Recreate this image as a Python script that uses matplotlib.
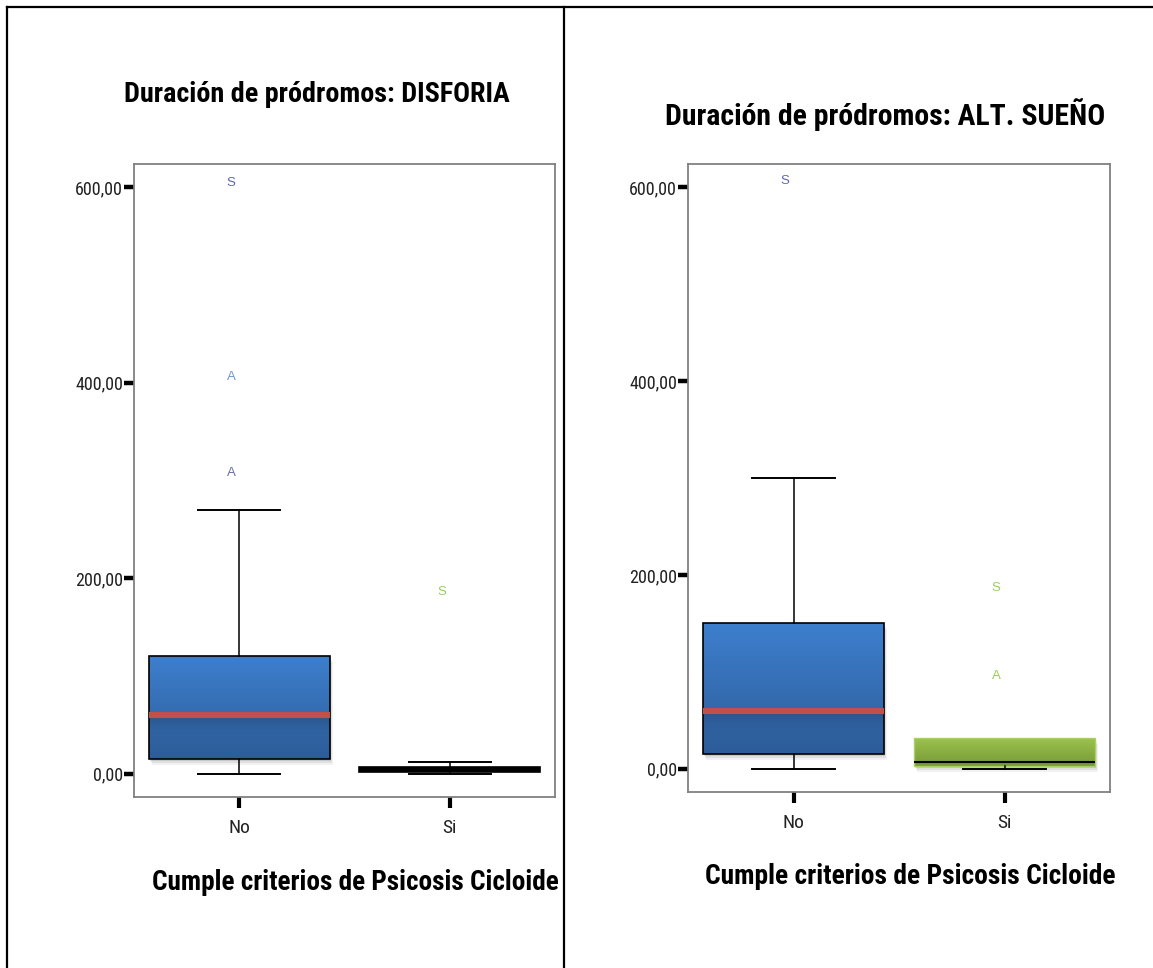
import os
import matplotlib
matplotlib.use('Agg')
import matplotlib.pyplot as plt
import matplotlib.colors as mcolors
import numpy as np
from matplotlib import font_manager, transforms
from matplotlib.font_manager import FontProperties
from matplotlib.lines import Line2D
from matplotlib.patches import Rectangle
from matplotlib.ticker import FuncFormatter

# datos
categories = ['No', 'Si']
y_ticks = [0, 200, 400, 600]

# Duracion de prodromos: DISFORIA
dis_whislo = [0, 0]
dis_q1 = [15, 2]
dis_med = [60, 4]
dis_q3 = [120, 7]
dis_whishi = [270, 12]
dis_out_vals = [[605, 406, 308], [186]]
dis_out_marks = [['S', 'A', 'A'], ['S']]
dis_out_colors = [['#5B69B2', '#6E98D6', '#6C6DAE'], ['#9ACD5B']]

# Duracion de prodromos: ALT. SUEÑO
sue_whislo = [0, 0]
sue_q1 = [15, 3]
sue_med = [60, 7]
sue_q3 = [150, 32]
sue_whishi = [300, 32]
sue_out_vals = [[606], [186, 96]]
sue_out_marks = [['S'], ['S', 'A']]
sue_out_colors = [['#5B69B2'], ['#9ACD5B', '#9ACD5B']]


def narrow_font(bold):
    # busca una fuente estrecha (tipo Arial Narrow) entre las instaladas
    best, best_rank = None, 99
    for f in font_manager.fontManager.ttflist:
        fn = os.path.basename(f.fname).lower()
        if '[' in fn or 'italic' in fn or 'oblique' in fn:
            continue
        if not ('narrow' in fn or 'condensed' in fn or f.stretch in ('condensed', 'semi-condensed')):
            continue
        if 'extra' in fn or 'ultra' in fn:
            continue
        w = f.weight if isinstance(f.weight, int) else 400
        is_bold = w >= 600 or 'bold' in fn
        if bold != is_bold:
            continue
        if not bold and any(k in fn for k in ('light', 'medium', 'thin', 'black', 'semi')):
            continue
        if bold and any(k in fn for k in ('semibold', 'extrabold', 'black')):
            continue
        if 'liberation' in fn:
            rank = 0
        elif 'arial' in fn:
            rank = 1
        elif 'roboto' in fn:
            rank = 2
        elif 'dejavu' in fn:
            rank = 3
        else:
            rank = 4
        if rank < best_rank:
            best, best_rank = f.fname, rank
    if best is None:
        return FontProperties(family='Liberation Sans', weight='bold' if bold else 'normal'), False
    return FontProperties(fname=best), True


fp_bold, bold_ok = narrow_font(True)
fp_reg, reg_ok = narrow_font(False)

W, H = 1153, 968
fig = plt.figure(figsize=(W / 100, H / 100), dpi=100)


def fill_gradient(ax, box, top, bottom, med=None, dark=0.0):
    v = box.get_path().vertices
    x0, x1 = v[:, 0].min(), v[:, 0].max()
    y0, y1 = v[:, 1].min(), v[:, 1].max()
    ys = np.linspace(y0, y1, 300)
    t = ((ys - y0) / max(y1 - y0, 1e-9))[:, None]
    rgb = np.array(mcolors.to_rgb(bottom)) * (1 - t) + np.array(mcolors.to_rgb(top)) * t
    if med is not None:
        d = med - ys
        k = np.where(d > 0, np.exp(-d / 9.0), 0.0) * dark
        rgb = rgb * (1 - k[:, None])
    img = ax.imshow(rgb[:, None, :], extent=(x0, x1, y0, y1), origin='lower',
                    aspect='auto', zorder=1.5, interpolation='bilinear')
    img.set_clip_path(box)
    # sombra
    for dx, dy, a in [(1, -2, 0.10), (2, -4, 0.08), (3, -6, 0.05)]:
        tr = transforms.offset_copy(ax.transData, fig=fig, x=dx, y=dy, units='dots')
        ax.add_patch(Rectangle((x0, y0), x1 - x0, y1 - y0, transform=tr,
                               facecolor='black', alpha=a, edgecolor='none', zorder=1.2))


def panel(rect, whislo, q1, med, q3, whishi, out_vals, out_marks, out_colors, si_style):
    ax = fig.add_axes(rect)
    stats = []
    for i, c in enumerate(categories):
        stats.append(dict(label=c, whislo=whislo[i], q1=q1[i], med=med[i],
                          q3=q3[i], whishi=whishi[i], fliers=[]))
    pos = np.arange(len(categories))
    bp = ax.bxp(stats, positions=pos, widths=0.86, capwidths=0.39, patch_artist=True,
                showfliers=False,
                boxprops=dict(facecolor='none', edgecolor='black', linewidth=1.2),
                whiskerprops=dict(color='black', linewidth=1.1),
                capprops=dict(color='black', linewidth=1.4),
                medianprops=dict(color='#C0504D', linewidth=4.5, solid_capstyle='butt'))
    # No: caja azul
    fill_gradient(ax, bp['boxes'][0], '#3D7FCE', '#2D5D99', med=med[0], dark=0.28)
    if si_style == 'black':
        bp['boxes'][1].set_linewidth(1.2)
        bp['boxes'][1].set_facecolor('black')
        bp['boxes'][1].set_zorder(1.8)
        bp['medians'][1].set_color('black')
        bp['medians'][1].set_linewidth(1.5)
    else:
        fill_gradient(ax, bp['boxes'][1], '#9DC54B', '#76993A')
        bp['boxes'][1].set_edgecolor('#A9CF65')
        bp['boxes'][1].set_linewidth(1.0)
        bp['medians'][1].set_color('black')
        bp['medians'][1].set_linewidth(1.5)
    for i in range(len(categories)):
        if whishi[i] == q3[i]:
            bp['caps'][2 * i + 1].set_visible(False)
    for i, c in enumerate(categories):
        for v, m, col in zip(out_vals[i], out_marks[i], out_colors[i]):
            ax.annotate(m, (pos[i], v), xytext=(-6, 0), textcoords='offset points',
                        ha='center', va='center', fontsize=9.5, family='Liberation Sans',
                        color=col)
    ax.set_xlim(-0.5, 1.5)
    ax.set_ylim(-24, 624)
    ax.set_yticks(y_ticks)
    ax.yaxis.set_major_formatter(FuncFormatter(lambda v, p: f'{v:.2f}'.replace('.', ',')))
    ax.set_xticks(pos)
    ax.set_xticklabels(categories)
    ax.tick_params(axis='y', length=7, width=3.2, color='black', pad=1)
    ax.tick_params(axis='x', length=8, width=3, color='black', pad=8)
    for lab in ax.get_yticklabels():
        lab.set_fontproperties(fp_reg)
        lab.set_fontsize(13 if reg_ok else 11)
        lab.set_color('#222222')
    for lab in ax.get_xticklabels():
        lab.set_fontproperties(fp_reg)
        lab.set_fontsize(14 if reg_ok else 12)
        lab.set_color('#222222')
    for s in ax.spines.values():
        s.set_color('#808080')
        s.set_linewidth(1.3)
    return ax


panel([134 / W, 1 - 797 / H, 421 / W, 633 / H],
      dis_whislo, dis_q1, dis_med, dis_q3, dis_whishi,
      dis_out_vals, dis_out_marks, dis_out_colors, 'black')
panel([688 / W, 1 - 792 / H, 422 / W, 628 / H],
      sue_whislo, sue_q1, sue_med, sue_q3, sue_whishi,
      sue_out_vals, sue_out_marks, sue_out_colors, 'green')

# (texto, centro x, centro y, ancho en px del original)
big_texts = [('Duración de pródromos: DISFORIA', 317, 95, 385),
             ('Duración de pródromos: ALT. SUEÑO', 885, 115, 440),
             ('Cumple criterios de Psicosis Cicloide', 355, 882, 405),
             ('Cumple criterios de Psicosis Cicloide', 910, 877, 410)]
renderer = fig.canvas.get_renderer()
for s, cx, cy, tw in big_texts:
    t = fig.text(cx / W, 1 - cy / H, s, ha='center', va='center',
                 fontproperties=fp_bold, fontweight='bold')
    t.set_fontsize(20)
    w = t.get_window_extent(renderer).width
    t.set_fontsize(min(22, 20 * tw / w))

# marco de la tabla
fig.add_artist(Line2D([7 / W, 1], [1 - 7 / H, 1 - 7 / H], transform=fig.transFigure, color='black', lw=1.6))
fig.add_artist(Line2D([7 / W, 7 / W], [0, 1 - 7 / H], transform=fig.transFigure, color='black', lw=1.6))
fig.add_artist(Line2D([564 / W, 564 / W], [0, 1 - 7 / H], transform=fig.transFigure, color='black', lw=1.6))

fig.savefig('out.png', dpi=100)
